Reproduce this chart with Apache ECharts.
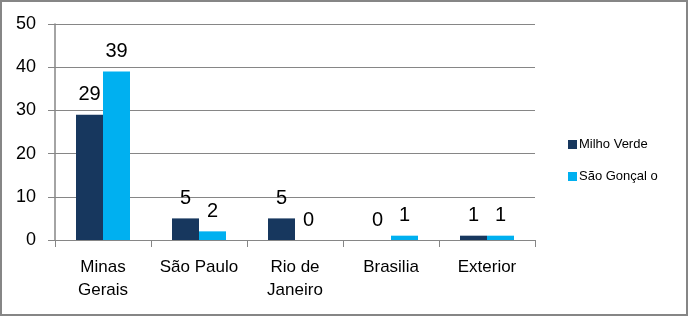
<!DOCTYPE html>
<html>
<head>
<meta charset="utf-8">
<script src="https://cdn.jsdelivr.net/npm/echarts@6/dist/echarts.min.js"></script>
<style>
  html, body { margin: 0; padding: 0; background: #fff; }
  #chart { width: 688px; height: 316px; }
</style>
</head>
<body>
<div id="chart"></div>
<script>
  // dados
  const categories = ['Minas\nGerais', 'São Paulo', 'Rio de\nJaneiro', 'Brasilia', 'Exterior']
  const milhoVerde = [29, 5, 5, 0, 1]
  const saoGoncalo = [39, 2, 0, 1, 1]
  const seriesNames = ['Milho Verde', 'São Gonçal o']

  const font = 'Liberation Sans, Arial, sans-serif'
  const gray = '#868686'

  let barLabel = {
    show: true,
    position: 'top',
    distance: 10,
    color: '#000',
    fontSize: 20,
    fontFamily: font
  }

  let option = {
    animation: false,
    backgroundColor: '#fff',
    graphic: [{
      type: 'rect',
      shape: { x: 1, y: 1, width: 686, height: 314 },
      style: { fill: 'none', stroke: gray, lineWidth: 2 }
    }],
    legend: {
      orient: 'vertical',
      left: 563,
      top: 133,
      itemWidth: 9,
      itemHeight: 9,
      itemGap: 19,
      icon: 'rect',
      textStyle: { fontSize: 13, color: '#000', fontFamily: font, padding: [0, 0, 0, -3] },
      data: seriesNames
    },
    grid: { left: 55, right: 153, top: 24, bottom: 76 },
    xAxis: {
      type: 'category',
      data: categories,
      axisLine: { lineStyle: { color: gray, width: 1 } },
      axisTick: { show: true, length: 7, lineStyle: { color: gray } },
      axisLabel: {
        interval: 0,
        margin: 16,
        color: '#000',
        fontSize: 17,
        lineHeight: 23,
        fontFamily: font
      }
    },
    yAxis: {
      type: 'value',
      min: 0,
      max: 50,
      interval: 10,
      axisLine: { show: true, lineStyle: { color: gray, width: 1.5 } },
      axisTick: { show: true, length: 7, lineStyle: { color: gray } },
      axisLabel: { margin: 19, color: '#000', fontSize: 18, fontFamily: font },
      splitLine: { show: true, lineStyle: { color: gray, width: 1 } }
    },
    series: [
      {
        name: seriesNames[0],
        type: 'bar',
        barWidth: 27,
        barGap: '0%',
        itemStyle: { color: '#17375E' },
        label: barLabel,
        data: milhoVerde
      },
      {
        name: seriesNames[1],
        type: 'bar',
        barWidth: 27,
        itemStyle: { color: '#00B0F0' },
        label: barLabel,
        data: saoGoncalo
      }
    ]
  }

  let myChart = echarts.init(document.getElementById('chart'))
  myChart.setOption(option)
</script>
</body>
</html>
